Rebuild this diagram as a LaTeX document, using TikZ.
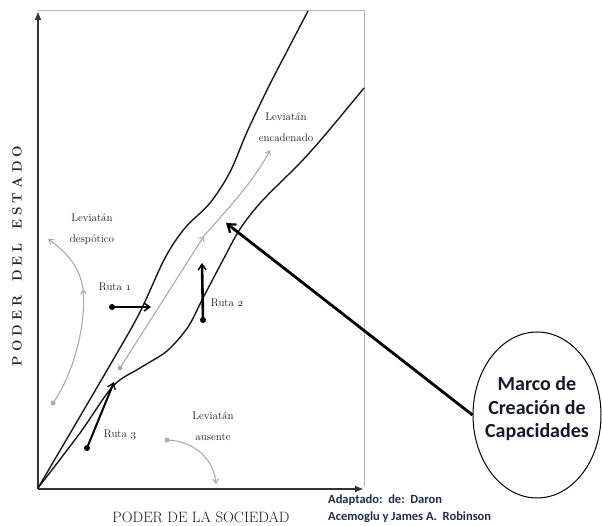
\documentclass[tikz,border=0pt]{standalone}
\usepackage{fontspec}
\newfontfamily\carlito{Carlito}
\usetikzlibrary{arrows.meta,shapes.geometric}
\definecolor{framegray}{HTML}{B4B4B4}
\definecolor{arrgray}{HTML}{ABABAB}
\definecolor{navy}{HTML}{1F2A4A}
\definecolor{marcotxt}{HTML}{15182A}
\newcommand\lsp{\kern4.1pt}
\newcommand\osnum[1]{{\fontencoding{OML}\fontfamily{cmm}\fontseries{m}\fontshape{it}\selectfont #1}}
\begin{document}
\begin{tikzpicture}[x=1pt,y=-1pt,
  lbl/.style={font=\fontsize{11}{21}\selectfont, align=center, inner sep=0pt, text=black!90},
  curve/.style={line width=1.4pt, black!90},
  axis/.style={line width=2.2pt, black!80, -{Latex[length=9pt,width=7pt]}},
  frameline/.style={line width=1pt, framegray},
  grayarrow/.style={draw=arrgray, line width=1.1pt, -{Straight Barb[angle=70:5pt]}},
  dotg/.style={circle, fill=arrgray, inner sep=0pt, minimum size=5pt},
  dotb/.style={circle, fill=black, inner sep=0pt, minimum size=6pt},
  rutaarrow/.style={line width=2.6pt, black, -{Straight Barb[angle=70:7pt, line width=1.5pt]}},
  rutathin/.style={line width=2pt, black, -{Straight Barb[angle=70:7pt, line width=1.3pt]}},
  bigarrow/.style={line width=2.8pt, black, -{Straight Barb[angle=70:9pt, line width=2.2pt]}},
]
\useasboundingbox (0,0) rectangle (602,526);

% frame and axes
\coordinate (O) at (38,489);
\coordinate (ytop) at (38,11);
\coordinate (xend) at (364,489);
\coordinate (tl) at (38,11);
\coordinate (tr) at (364,11);
\coordinate (br) at (364,487);
\draw[frameline] (tl) -- (tr) -- (br);
\draw[axis] (O) -- (ytop);
\draw[axis] (O) -- (xend);

% axis labels
\node[rotate=90, font=\bfseries\fontsize{13.5}{13.5}\selectfont, text=black!85, inner sep=0pt] (ylab) at (17,256)
  {P\lsp O\lsp D\lsp E\lsp R\lsp\ \lsp D\lsp E\lsp L\lsp\ \lsp E\lsp S\lsp T\lsp A\lsp D\lsp O};
\node[font=\fontsize{15}{15}\selectfont, text=black!90, inner sep=0pt] (xlab) at (201,517) {PODER DE LA SOCIEDAD};

% corridor curves
\draw[curve] plot[smooth, tension=0.55] coordinates {(38,488) (113,360) (140,312) (165,258) (185,228) (210,203) (230,172) (247,132) (267,90) (285,55) (308,11)};
\draw[curve] plot[smooth, tension=0.5] coordinates {(38,488) (80,433) (113,386) (140,368) (167,351) (188,327) (203,298) (223,260) (240,229) (262,201) (300,163) (325,135) (364,88)};

% gray arrows
\node[dotg] (g1) at (53,403) {};
\coordinate (g1m) at (83,289);
\coordinate (g1e) at (48,239);
\draw[grayarrow] (g1.center) .. controls (76,370) and (86,320) .. (g1m);
\draw[grayarrow] (g1m) .. controls (80,266) and (64,250) .. (g1e);

\node[dotg] (g2) at (120,368) {};
\coordinate (g2m) at (204,236);
\coordinate (g2e) at (270,150);
\draw[grayarrow] (g2.center) -- (g2m);
\draw[grayarrow] (g2m) .. controls (225,212) and (255,180) .. (g2e);

\node[dotg] (g3) at (167,440) {};
\coordinate (g3e) at (216,484);
\draw[grayarrow] (g3.center) .. controls (195,441) and (214,460) .. (g3e);

% rutas
\node[dotb] (r1) at (112,307) {};
\coordinate (r1e) at (151,307);
\draw[rutaarrow] (r1.center) -- (r1e);

\node[dotb] (r2) at (203,320) {};
\coordinate (r2e) at (202,263);
\draw[rutaarrow] (r2.center) -- (r2e);

\node[dotb] (r3) at (87,448) {};
\coordinate (r3e) at (114,382);
\draw[rutathin] (r3.center) -- (r3e);

% labels
\node[lbl] (ld) at (92,229) {Leviatán\\despótico};
\node[lbl] (le) at (286,127) {Leviatán\\encadenado};
\node[lbl] (la) at (213,426) {Leviatán\\ausente};
\node[lbl] (t1) at (115,287) {Ruta \osnum{1}};
\node[lbl] (t2) at (227,303) {Ruta \osnum{2}};
\node[lbl] (t3) at (120,435) {Ruta \osnum{3}};

% marco
\node[draw, ellipse, line width=1pt, minimum width=128pt, minimum height=166pt, inner sep=0pt] (marco) at (537,415) {};
\node[font=\carlito\bfseries\fontsize{20}{23.5}\selectfont, text=marcotxt, align=center, inner sep=0pt] (marcot) at (537,409)
  {Marco de\\Creación de\\Capacidades};
\coordinate (tip) at (226,223);
\draw[bigarrow] (marco.west) -- (tip);

% credits
\node[font=\carlito\bfseries\fontsize{12.5}{17}\selectfont, text=navy, align=left, anchor=north west, inner sep=0pt] (cred) at (328,495)
  {Adaptado:~\ de:~\ Daron\\Acemoglu y James A.~\ Robinson};
\end{tikzpicture}
\end{document}
